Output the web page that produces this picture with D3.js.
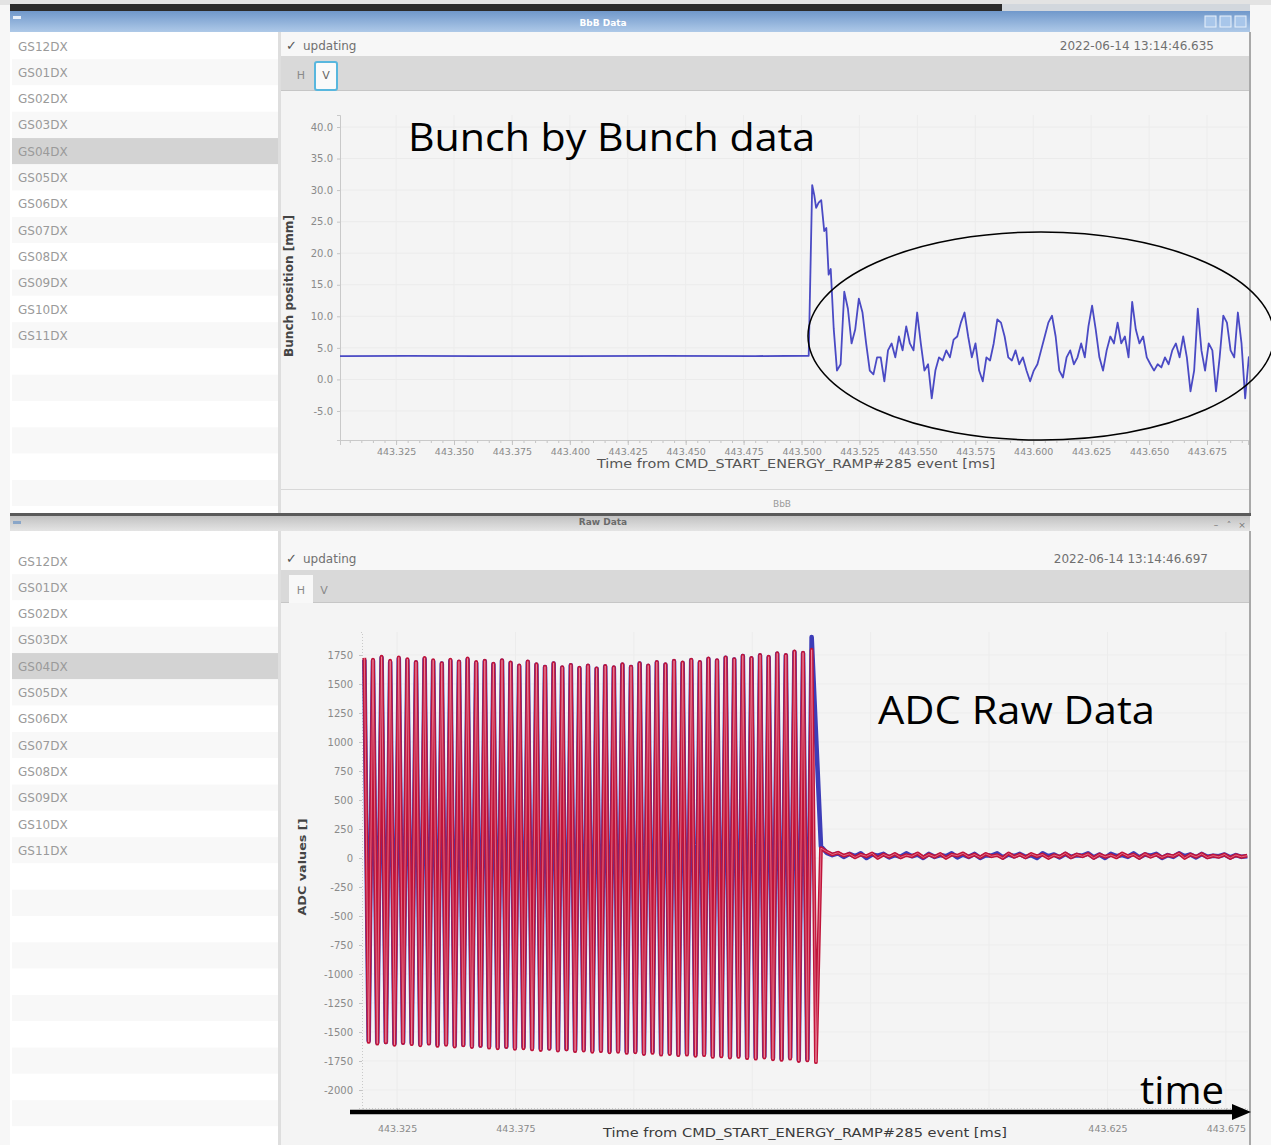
<!DOCTYPE html>
<html>
<head>
<meta charset="utf-8">
<script src="https://cdn.jsdelivr.net/npm/d3@7"></script>
<style>
  html, body { margin: 0; padding: 0; background: #f5f5f5; }
  svg { display: block; }
  text { font-family: "DejaVu Sans", sans-serif; }
  .note { font-family: "Open Sans", sans-serif; }
</style>
</head>
<body>
<svg id="screen" width="1271" height="1145"></svg>
<script>
// ---- channel list ----
const channels = ["GS12DX", "GS01DX", "GS02DX", "GS03DX", "GS04DX", "GS05DX",
                  "GS06DX", "GS07DX", "GS08DX", "GS09DX", "GS10DX", "GS11DX"];
const selectedChannel = "GS04DX";

// ---- bunch-by-bunch view (V plane) ----
const bbbTimeTicks = [443.325, 443.350, 443.375, 443.400, 443.425, 443.450, 443.475,
                      443.500, 443.525, 443.550, 443.575, 443.600, 443.625, 443.650, 443.675];
const bbbPosTicks = [-5, 0, 5, 10, 15, 20, 25, 30, 35, 40];
// steady orbit before the kick: [time ms, position mm]
const bbbFlat = [[443.3008, 3.7], [443.330, 3.72], [443.360, 3.68], [443.400, 3.7],
                 [443.440, 3.72], [443.480, 3.7], [443.5031, 3.75]];
// kick and first turns: [time ms, position mm]
const bbbKick = [[443.5046, 30.8], [443.5055, 29.2], [443.5063, 27.2], [443.5074, 28.0],
                 [443.5085, 28.4], [443.5098, 23.5], [443.5107, 24.0], [443.5117, 16.6],
                 [443.5126, 17.5], [443.5139, 8.0]];
// one position per turn after that
const bbbTailStart = 443.5153;
const bbbTurn = 0.001573;
const bbbTail = [1.4, 2.4, 13.9, 11.2, 5.7, 7.9, 12.8, 10.6, 5.7, 1.4,
                 0.8, 3.5, 3.5, -0.3, 4.6, 5.7, 3.5, 6.8, 4.6, 8.4,
                 5.7, 4.6, 10.6, 5.7, 1.4, 2.4, -3.0, 1.4, 3.5, 3.0,
                 4.6, 3.5, 6.3, 6.8, 9.0, 10.6, 6.8, 3.5, 5.7, 1.4,
                 -0.3, 3.5, 3.0, 5.7, 9.5, 9.0, 6.8, 3.5, 3.0, 4.6,
                 2.4, 3.5, 1.4, -0.3, 1.4, 2.4, 4.6, 6.8, 9.0, 10.1,
                 6.8, 1.4, 0.3, 3.5, 4.6, 2.4, 3.5, 5.7, 3.5, 8.4,
                 11.7, 7.9, 3.5, 1.4, 4.6, 6.8, 5.7, 9.0, 5.7, 6.8,
                 3.5, 12.3, 7.9, 5.7, 6.8, 3.5, 2.4, 1.4, 2.4, 1.9,
                 3.5, 2.4, 4.6, 5.7, 3.5, 6.8, 3.5, -1.9, 1.4, 11.2,
                 4.6, 1.4, 5.7, 4.6, -1.9, 3.5, 10.1, 9.0, 4.6, 3.5,
                 10.6, 5.7, -3.0, 3.5, 4.1];

// ---- ADC raw data view (H plane) ----
const adcTicks = [-2000, -1750, -1500, -1250, -1000, -750, -500, -250,
                  0, 250, 500, 750, 1000, 1250, 1500, 1750];
const adcTimeTicks = [443.325, 443.375, 443.625, 443.675];
// alternate maxima / minima of each RF cycle
const adcStart = 443.3112;
const adcHalf = 0.001816;
const adcRedPeaks = [1725, 1710, 1735, 1700, 1730, 1715, 1690, 1725, 1705, 1680,
                     1710, 1695, 1720, 1690, 1700, 1675, 1705, 1685, 1660, 1695,
                     1670, 1650, 1680, 1645, 1665, 1640, 1660, 1635, 1655, 1645,
                     1670, 1650, 1680, 1660, 1690, 1670, 1700, 1685, 1710, 1690,
                     1720, 1705, 1730, 1715, 1745, 1725, 1750, 1735, 1765, 1750,
                     1780, 1770, 1795];
const adcRedTroughs = [-1585, -1600, -1590, -1610, -1595, -1605, -1615, -1600, -1620, -1610,
                       -1625, -1615, -1630, -1620, -1635, -1640, -1630, -1645, -1640, -1650,
                       -1655, -1645, -1660, -1650, -1665, -1660, -1670, -1665, -1675, -1670,
                       -1680, -1675, -1690, -1680, -1695, -1690, -1700, -1695, -1705, -1700,
                       -1715, -1710, -1720, -1715, -1725, -1730, -1720, -1735, -1740, -1730,
                       -1750, -1745, -1760];
const adcBluePeaks = [1710, 1700, 1725, 1690, 1720, 1705, 1685, 1715, 1695, 1675,
                      1700, 1690, 1710, 1680, 1695, 1670, 1700, 1680, 1655, 1690,
                      1665, 1645, 1675, 1640, 1660, 1635, 1655, 1630, 1650, 1640,
                      1665, 1645, 1675, 1655, 1685, 1665, 1695, 1680, 1705, 1685,
                      1715, 1700, 1725, 1710, 1740, 1720, 1745, 1730, 1760, 1745,
                      1775, 1765, 1905];
const adcBlueTroughs = [-1575, -1590, -1585, -1600, -1590, -1595, -1605, -1595, -1610, -1600,
                        -1615, -1610, -1620, -1615, -1625, -1630, -1625, -1635, -1630, -1640,
                        -1645, -1640, -1650, -1645, -1655, -1650, -1660, -1655, -1665, -1660,
                        -1670, -1665, -1680, -1670, -1685, -1680, -1690, -1685, -1695, -1690,
                        -1705, -1700, -1710, -1705, -1715, -1720, -1710, -1725, -1730, -1720,
                        -1740, -1735];
// residual signal once the beam is gone
const rippleStart = 443.5040;
const rippleStep = 0.0024;
const adcRedRipple = [85, 55, 30, 45, 20, 35, 5, 30, 15, 40,
                      0, 30, 10, 35, 5, 25, 15, 40, 5, 30,
                      10, 35, 0, 30, 20, 40, 10, 30, 5, 35,
                      15, 25, 0, 40, 10, 30, 5, 35, 15, 30,
                      0, 25, 10, 40, 5, 30, 15, 35, 0, 30,
                      10, 25, 5, 40, 15, 30, 0, 35, 10, 30,
                      5, 25, 15, 40, 0, 30, 10, 35, 5, 20,
                      10, 30, 0, 25, 10, 20];
const adcBlueRipple = [100, 45, 25, 40, 10, 35, 15, 40, 0, 30,
                       20, 35, 5, 25, 10, 40, 15, 30, 0, 35,
                       10, 25, 15, 40, 5, 30, 10, 35, 0, 25,
                       20, 40, 5, 30, 15, 35, 10, 25, 0, 40,
                       15, 30, 5, 35, 10, 25, 20, 40, 5, 30,
                       0, 35, 15, 25, 10, 40, 5, 30, 20, 35,
                       0, 25, 10, 40, 15, 30, 5, 35, 10, 20,
                       15, 30, 5, 25, 10, 15];

const svg = d3.select("#screen");
const defs = svg.append("defs");

function rect(x, y, w, h, fill, extra) {
  const r = svg.append("rect").attr("x", x).attr("y", y).attr("width", w).attr("height", h).attr("fill", fill);
  if (extra) Object.entries(extra).forEach(([k, v]) => r.attr(k, v));
  return r;
}
function label(x, y, str, size, fill, extra) {
  const t = svg.append("text").attr("x", x).attr("y", y).attr("font-size", size).attr("fill", fill).text(str);
  if (extra) Object.entries(extra).forEach(([k, v]) => t.attr(k, v));
  return t;
}
function vGradient(id, c0, c1) {
  const g = defs.append("linearGradient").attr("id", id).attr("x1", 0).attr("y1", 0).attr("x2", 0).attr("y2", 1);
  g.append("stop").attr("offset", "0%").attr("stop-color", c0);
  g.append("stop").attr("offset", "100%").attr("stop-color", c1);
}
vGradient("activeTitle", "#7098cb", "#aec9e8");
vGradient("idleTitle", "#c2c2c2", "#e4e4e4");

// ---- desktop strip ----
rect(0, 0, 1271, 1145, "#f7f7f7");
rect(0, 0, 1271, 5, "#e3e3e3");
rect(10, 4, 992, 8, "#2b2b2b");
rect(1002, 4, 248, 8, "#d2d7dd");

// ---- channel list panel ----
function channelList(top, bottom, firstCenter) {
  const rowH = 26.3;
  let i = 0;
  rect(10, top, 268, bottom - top, "#ffffff");
  for (let c = firstCenter; c - rowH / 2 < bottom; c += rowH, i++) {
    const name = channels[i];
    const y0 = Math.max(top, c - rowH / 2);
    const fill = name === selectedChannel ? "#d3d3d3" : (i % 2 ? "#f8f8f8" : "#ffffff");
    rect(12, y0, 266, Math.min(bottom, c + rowH / 2) - y0, fill);
    if (name) label(18, c + 4.5, name, 12, "#9a9a9a");
  }
  rect(278, top, 3, bottom - top, "#dedede");
}

// ---- window chrome ----
function chrome(o) {
  rect(10, o.titleTop, 1240, o.titleBottom - o.titleTop, `url(#${o.active ? "activeTitle" : "idleTitle"})`);
  rect(13, o.titleTop + 5, 8, 3, o.active ? "#e8f0fa" : "#8aa6c8");
  label(603, o.titleBottom - 6, o.title, 9, o.active ? "#ffffff" : "#6a6a6a",
        { "text-anchor": "middle", "font-weight": "bold" });
  channelList(o.titleBottom, o.bottom, o.firstRow);
  rect(281, o.titleBottom, 969, o.bottom - o.titleBottom, "#f3f3f3");
  rect(281, o.titleBottom, 969, o.tabTop - o.titleBottom, "#f7f7f7");
  label(286, o.stampY, "\u2713", 13, "#555");
  label(303, o.stampY, "updating", 12, "#707070");
  label(o.stampX, o.stampY, o.stamp, 12, "#707070", { "text-anchor": "end" });
  rect(281, o.tabTop, 969, o.tabBottom - o.tabTop, "#d9d9d9");
  rect(281, o.tabBottom - 1, 969, 1, "#c6c6c6");
  rect(281, o.tabBottom, 969, o.bottom - o.tabBottom, "#f4f4f4");
  rect(1249, o.titleBottom, 2, o.bottom - o.titleBottom, "#a9a9a9");
}

chrome({ titleTop: 11, titleBottom: 32, bottom: 513, active: true, title: "BbB Data",
         firstRow: 46, stampY: 50, stampX: 1214, stamp: "2022-06-14 13:14:46.635",
         tabTop: 56, tabBottom: 91 });
[1205, 1220, 1235].forEach(x => rect(x, 16, 11, 11, "#a8c6ea", { stroke: "#e9f1fb", "stroke-width": 1 }));
// tabs H / V (V active)
label(301, 79, "H", 11, "#8a8a8a", { "text-anchor": "middle" });
rect(315, 62, 22, 28, "#fafafa", { stroke: "#58b7de", "stroke-width": 2, rx: 2 });
label(326, 79, "V", 11, "#666", { "text-anchor": "middle" });
// status strip under the plot
rect(281, 489, 968, 1, "#d8d8d8");
rect(281, 490, 968, 23, "#f6f6f6");
label(782, 507, "BbB", 9, "#9a9a9a", { "text-anchor": "middle" });

// separator between the two windows
rect(10, 513, 1241, 3, "#5a5a5a");

chrome({ titleTop: 516, titleBottom: 531, bottom: 1145, active: false, title: "Raw Data",
         firstRow: 561, stampY: 563, stampX: 1208, stamp: "2022-06-14 13:14:46.697",
         tabTop: 570, tabBottom: 603 });
[["\u2013", 1216], ["\u02c4", 1229], ["\u00d7", 1242]].forEach(([g, x]) =>
  label(x, 528, g, 9, "#777", { "text-anchor": "middle" }));
rect(289, 575, 24, 28, "#f8f8f8");
label(301, 594, "H", 11, "#8a8a8a", { "text-anchor": "middle" });
label(324, 594, "V", 11, "#8a8a8a", { "text-anchor": "middle" });

// ================= bunch-by-bunch plot =================
const xTop = d3.scaleLinear().domain([443.3008, 443.6927]).range([340, 1248]);
const yTop = d3.scaleLinear().domain([-9.6, 41.9]).range([440, 115]);

const gTop = svg.append("g");
gTop.append("g").selectAll("line").data(bbbPosTicks).join("line")
  .attr("x1", 341).attr("x2", 1248).attr("y1", d => yTop(d)).attr("y2", d => yTop(d))
  .attr("stroke", "#ebebeb");
gTop.append("g").selectAll("line").data(bbbTimeTicks).join("line")
  .attr("x1", d => xTop(d)).attr("x2", d => xTop(d)).attr("y1", 115).attr("y2", 440)
  .attr("stroke", "#ececec");

function styleAxis(g, size) {
  g.selectAll(".domain").attr("stroke", "#c9c9c9");
  g.selectAll(".tick line").attr("stroke", "#c4c4c4");
  g.selectAll(".tick text").attr("fill", "#8a8a8a").attr("font-size", size)
    .attr("font-family", "DejaVu Sans, sans-serif");
}

const yAxisTop = gTop.append("g").attr("transform", "translate(340,0)")
  .call(d3.axisLeft(yTop).tickValues(bbbPosTicks).tickFormat(d => d.toFixed(1)).tickSize(3).tickPadding(4));
styleAxis(yAxisTop, 10);

const minorTop = d3.range(443.305, 443.692, 0.005);
const xMinorTop = gTop.append("g").attr("transform", "translate(0,440)")
  .call(d3.axisBottom(xTop).tickValues(minorTop).tickFormat("").tickSize(3));
styleAxis(xMinorTop, 9);
const xAxisTop = gTop.append("g").attr("transform", "translate(0,440)")
  .call(d3.axisBottom(xTop).tickValues(bbbTimeTicks).tickFormat(d => d.toFixed(3)).tickSize(5).tickPadding(3));
styleAxis(xAxisTop, 9.5);

label(796, 468, "Time from CMD_START_ENERGY_RAMP#285 event [ms]", 12, "#555",
      { "text-anchor": "middle", textLength: 398, lengthAdjust: "spacingAndGlyphs" });
label(0, 0, "Bunch position [mm]", 11.5, "#444",
      { "text-anchor": "middle", "font-weight": "bold", transform: "translate(293,286) rotate(-90)",
        textLength: 142, lengthAdjust: "spacingAndGlyphs" });

defs.append("clipPath").attr("id", "clipTop").append("rect")
  .attr("x", 340).attr("y", 112).attr("width", 909).attr("height", 330);

const bbbSeries = bbbFlat.concat(bbbKick, bbbTail.map((v, i) => [bbbTailStart + i * bbbTurn, v]));
const lineTop = d3.line().x(d => xTop(d[0])).y(d => yTop(d[1]));
gTop.append("path").datum(bbbSeries).attr("clip-path", "url(#clipTop)")
  .attr("d", lineTop).attr("fill", "none").attr("stroke", "#4a4ac4")
  .attr("stroke-width", 1.8).attr("stroke-linejoin", "round");

// ================= ADC raw data plot =================
const xBot = d3.scaleLinear().domain([443.3102, 443.6839]).range([362, 1247]);
const yBot = d3.scaleLinear().domain([-2155, 1948]).range([1108, 632]);

const gBot = svg.append("g");
gBot.append("g").selectAll("line").data(adcTicks).join("line")
  .attr("x1", 363).attr("x2", 1248).attr("y1", d => yBot(d)).attr("y2", d => yBot(d))
  .attr("stroke", "#ededed");
gBot.append("g").selectAll("line").data([443.325, 443.375, 443.425, 443.475, 443.525, 443.575, 443.625, 443.675]).join("line")
  .attr("x1", d => xBot(d)).attr("x2", d => xBot(d)).attr("y1", 632).attr("y2", 1108)
  .attr("stroke", "#ececec");

const yAxisBot = gBot.append("g").attr("transform", "translate(362,0)")
  .call(d3.axisLeft(yBot).tickValues(adcTicks).tickFormat(d => String(d)).tickSize(3).tickPadding(6));
styleAxis(yAxisBot, 10);
yAxisBot.select(".domain").attr("stroke-dasharray", "1,2");

const xAxisBot = gBot.append("g").attr("transform", "translate(0,1108)")
  .call(d3.axisBottom(xBot).tickValues(adcTimeTicks).tickFormat(d => d.toFixed(3)).tickSize(3).tickPadding(14));
styleAxis(xAxisBot, 9.5);
xAxisBot.select(".domain").attr("stroke-dasharray", "1,2");

label(805, 1137, "Time from CMD_START_ENERGY_RAMP#285 event [ms]", 12, "#3a3a3a",
      { "text-anchor": "middle", textLength: 404, lengthAdjust: "spacingAndGlyphs" });
label(0, 0, "ADC values []", 11, "#444",
      { "text-anchor": "middle", "font-weight": "bold", transform: "translate(306,867) rotate(-90)",
        textLength: 97, lengthAdjust: "spacingAndGlyphs" });

defs.append("clipPath").attr("id", "clipBot").append("rect")
  .attr("x", 362).attr("y", 620).attr("width", 887).attr("height", 490);

function adcSeries(peaks, troughs, ripple) {
  const pts = [];
  peaks.forEach((p, i) => {
    pts.push([adcStart + 2 * i * adcHalf, p]);
    if (i < troughs.length) pts.push([adcStart + (2 * i + 1) * adcHalf, troughs[i]]);
  });
  ripple.forEach((v, i) => pts.push([rippleStart + i * rippleStep, v]));
  return pts;
}
const lineBot = d3.line().x(d => xBot(d[0])).y(d => yBot(d[1]));
const redPts = adcSeries(adcRedPeaks, adcRedTroughs, adcRedRipple);
gBot.append("path").datum(adcSeries(adcBluePeaks, adcBlueTroughs, adcBlueRipple))
  .attr("clip-path", "url(#clipBot)").attr("d", lineBot).attr("fill", "none")
  .attr("stroke", "#3d3db8").attr("stroke-width", 4.6).attr("stroke-linejoin", "round");
gBot.append("path").datum(redPts)
  .attr("clip-path", "url(#clipBot)").attr("d", lineBot).attr("fill", "none")
  .attr("stroke", "#c0143a").attr("stroke-width", 3.8).attr("stroke-linejoin", "round");
// soft highlight running along the red trace
gBot.append("path").datum(redPts)
  .attr("clip-path", "url(#clipBot)").attr("d", lineBot).attr("fill", "none")
  .attr("stroke", "#f7a6b8").attr("stroke-width", 1.0).attr("stroke-opacity", 0.6)
  .attr("stroke-linejoin", "round");

// ================= slide annotations =================
label(408, 151, "Bunch by Bunch data", 38, "#000",
      { class: "note", textLength: 407, lengthAdjust: "spacingAndGlyphs" });
label(878, 724, "ADC Raw Data", 38, "#000",
      { class: "note", textLength: 277, lengthAdjust: "spacingAndGlyphs" });
label(1140, 1104, "time", 38, "#000",
      { class: "note", textLength: 84, lengthAdjust: "spacingAndGlyphs" });
svg.append("ellipse").attr("cx", 1041).attr("cy", 336).attr("rx", 233).attr("ry", 104)
  .attr("fill", "none").attr("stroke", "#000").attr("stroke-width", 1.5);
svg.append("line").attr("x1", 350).attr("x2", 1236).attr("y1", 1112).attr("y2", 1112)
  .attr("stroke", "#000").attr("stroke-width", 4.5);
svg.append("path").attr("d", "M1232,1104 L1251,1112 L1232,1120 Z").attr("fill", "#000");
</script>
</body>
</html>
